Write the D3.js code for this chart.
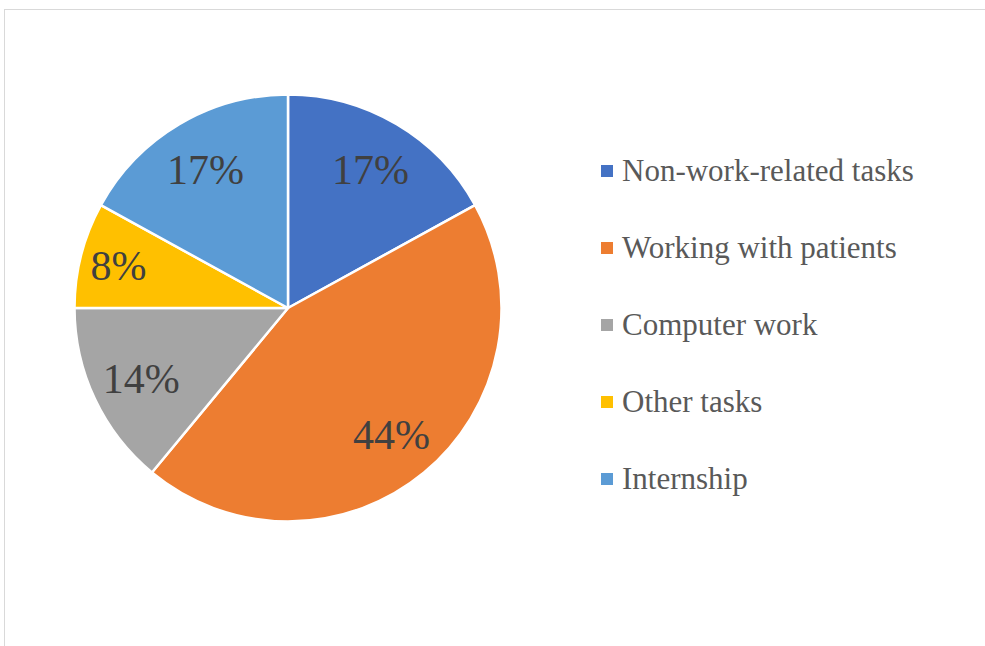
<!DOCTYPE html>
<html>
<head>
<meta charset="utf-8">
<script src="https://cdn.jsdelivr.net/npm/d3@7"></script>
</head>
<body style="margin:0">
<svg id="pie-figure" width="985" height="646"></svg>
<script>
// Share of time by activity (percent)
const categories = ["Non-work-related tasks", "Working with patients", "Computer work", "Other tasks", "Internship"];
const values = [17, 44, 14, 8, 17];
const colors = ["#4472C4", "#ED7D31", "#A5A5A5", "#FFC000", "#5B9BD5"];

const fontName = "Liberation Serif";
const svg = d3.select("#pie-figure");

// Chart area frame
svg.append("rect")
  .attr("x", 4.5).attr("y", 9.5)
  .attr("width", 1200).attr("height", 1000)
  .attr("fill", "none")
  .attr("stroke", "#d9d9d9")
  .attr("stroke-width", 1);

const cx = 288, cy = 308, radius = 213.5;

const data = categories.map((c, i) => ({ category: c, value: values[i], color: colors[i] }));
const arcs = d3.pie().value(d => d.value).sort(null)(data);
const arc = d3.arc().innerRadius(0).outerRadius(radius);

const slices = svg.append("g").attr("transform", `translate(${cx},${cy})`);
slices.selectAll("path")
  .data(arcs)
  .join("path")
  .attr("d", arc)
  .attr("fill", d => d.data.color)
  .attr("stroke", "#ffffff")
  .attr("stroke-width", 2.5)
  .attr("stroke-linejoin", "round");

// Percentage labels inside the slices; narrow slices push their label outward
const labelArc = r => d3.arc().innerRadius(r).outerRadius(r);
const labelPos = d => labelArc(d.data.value < 10 ? radius * 0.82 : radius * 0.76).centroid(d);
const pctLayer = svg.append("g").attr("transform", `translate(${cx},${cy})`);
pctLayer.selectAll("text")
  .data(arcs)
  .join("text")
  .attr("x", d => labelPos(d)[0])
  .attr("y", d => labelPos(d)[1] + 16)
  .attr("text-anchor", "middle")
  .style("font-family", d => `"${fontName}", monospace`)
  .attr("font-size", 42)
  .style("fill", "#404040")
  .text(d => d3.format("d")(d.data.value) + "%");

// Legend
const legendX = 601, legendY0 = 171, legendStep = 77;
const legend = svg.append("g");
const rows = legend.selectAll("g")
  .data(data)
  .join("g")
  .attr("transform", (d, i) => `translate(${legendX},${legendY0 + i * legendStep})`);

rows.append("rect")
  .attr("x", 0).attr("y", -6)
  .attr("width", 12).attr("height", 12)
  .attr("fill", d => d.color);

rows.append("text")
  .attr("x", 21).attr("y", 10)
  .style("font-family", d => `"${fontName}", monospace`)
  .attr("font-size", 31)
  .style("fill", "#595959")
  .text(d => d.category);
</script>
</body>
</html>
